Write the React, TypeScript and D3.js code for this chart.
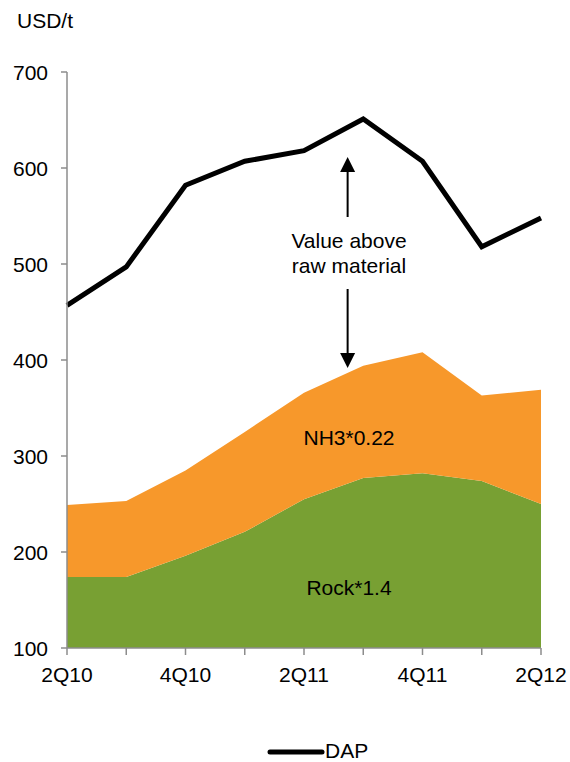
import React from "react";
import * as d3 from "d3";

const quarters = ["2Q10", "3Q10", "4Q10", "1Q11", "2Q11", "3Q11", "4Q11", "1Q12", "2Q12"];
const xTickLabels = ["2Q10", "", "4Q10", "", "2Q11", "", "4Q11", "", "2Q12"];
const rock = [174, 174, 196, 221, 255, 277, 282, 274, 250];
const nh3 = [75, 79, 89, 104, 111, 117, 126, 89, 119];
const dap = [457, 497, 582, 607, 618, 651, 607, 518, 548];
const yTicks = [100, 200, 300, 400, 500, 600, 700];

const W = 570;
const H = 762;
const FONT = "'Liberation Sans', Arial, sans-serif";

export default function App() {
  const x = d3.scalePoint<string>().domain(quarters).range([67, 541]);
  const y = d3.scaleLinear().domain([100, 700]).range([648, 72]);

  const totals = rock.map((r, i) => r + nh3[i]);
  const rockArea = d3
    .area<number>()
    .x((_, i) => x(quarters[i])!)
    .y0(y(100))
    .y1((d) => y(d));
  const nh3Area = d3
    .area<number>()
    .x((_, i) => x(quarters[i])!)
    .y0((_, i) => y(rock[i]))
    .y1((d) => y(d));
  const dapLine = d3
    .line<number>()
    .x((_, i) => x(quarters[i])!)
    .y((d) => y(d));

  const axisColor = "#8c8c8c";
  const arrowX = (x("3Q11")! + x("2Q11")!) / 2 + 14;

  return (
    <svg
      width={W}
      height={H}
      style={{ position: "absolute", left: 0, top: 0, background: "#fff" }}
      fontFamily={FONT}
    >
      <path d={rockArea(rock) || ""} fill="#78a033" />
      <path d={nh3Area(totals) || ""} fill="#f7982b" />
      <path
        d={dapLine(dap) || ""}
        fill="none"
        stroke="#000"
        strokeWidth={5}
        strokeLinejoin="miter"
      />

      {/* y axis */}
      <line x1={67} x2={67} y1={y(700)} y2={y(100)} stroke={axisColor} strokeWidth={1.5} />
      {yTicks.map((t) => (
        <g key={t}>
          <line x1={61} x2={67} y1={y(t)} y2={y(t)} stroke={axisColor} strokeWidth={1.5} />
          <text x={48} y={y(t) + 7.5} textAnchor="end" fontSize={21} fill="#000">
            {t}
          </text>
        </g>
      ))}
      {/* x axis */}
      <line x1={67} x2={541} y1={y(100)} y2={y(100)} stroke={axisColor} strokeWidth={1.5} />
      {quarters.map((q, i) => (
        <g key={q}>
          <line
            x1={x(q)!}
            x2={x(q)!}
            y1={y(100)}
            y2={y(100) + 7}
            stroke={axisColor}
            strokeWidth={1.5}
          />
          {xTickLabels[i] && (
            <text x={x(q)!} y={682} textAnchor="middle" fontSize={21} fill="#000">
              {xTickLabels[i]}
            </text>
          )}
        </g>
      ))}

      <text x={17} y={28} fontSize={21} fill="#000">
        USD/t
      </text>

      {/* annotations */}
      <text x={349} y={445} textAnchor="middle" fontSize={21} fill="#000">
        NH3*0.22
      </text>
      <text x={349} y={595} textAnchor="middle" fontSize={21} fill="#000">
        Rock*1.4
      </text>
      <text x={349} y={248} textAnchor="middle" fontSize={21} fill="#000">
        Value above
      </text>
      <text x={349} y={273} textAnchor="middle" fontSize={21} fill="#000">
        raw material
      </text>

      <line x1={arrowX} x2={arrowX} y1={217} y2={170} stroke="#000" strokeWidth={2} />
      <path d={`M${arrowX - 7.5},${172} L${arrowX + 7.5},${172} L${arrowX},${157} Z`} fill="#000" />
      <line x1={arrowX} x2={arrowX} y1={289} y2={355} stroke="#000" strokeWidth={2} />
      <path d={`M${arrowX - 7.5},${353} L${arrowX + 7.5},${353} L${arrowX},${368} Z`} fill="#000" />

      {/* legend */}
      <line x1={270} x2={322} y1={752} y2={752} stroke="#000" strokeWidth={5} strokeLinecap="round" />
      <text x={325} y={758} fontSize={21} fill="#000">
        DAP
      </text>
    </svg>
  );
}
